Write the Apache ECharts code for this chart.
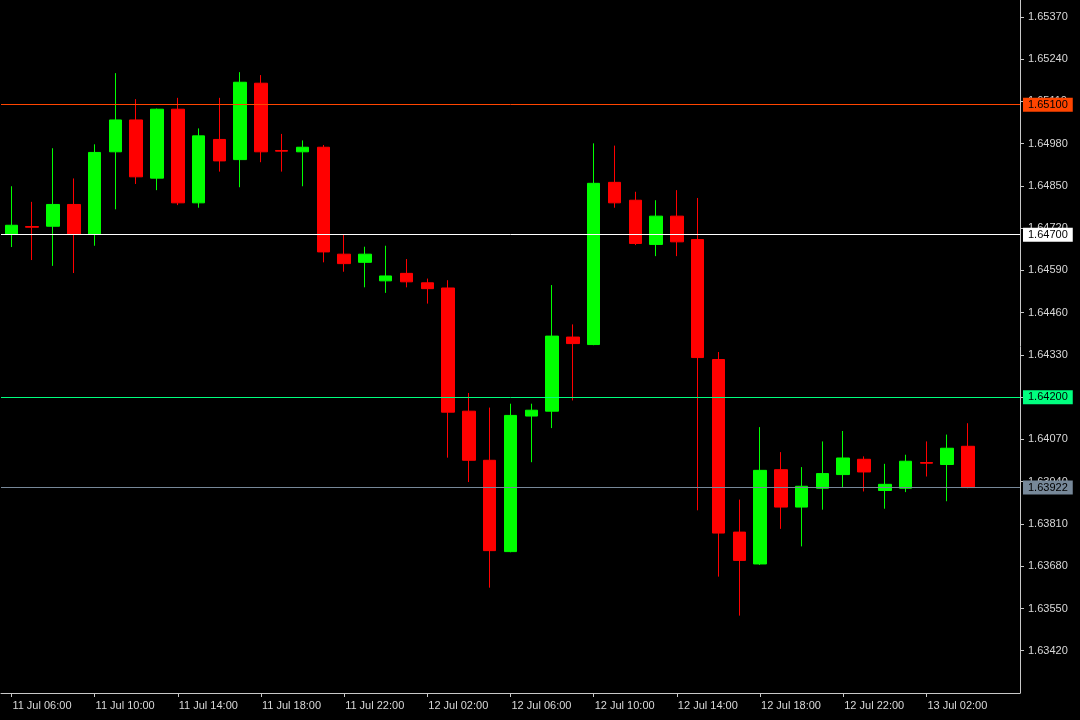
<!DOCTYPE html>
<html>
<head>
<meta charset="utf-8">
<script src="https://cdn.jsdelivr.net/npm/echarts@6/dist/echarts.min.js"></script>
<style>
html,body{margin:0;padding:0;background:#000;}
#chart{width:1080px;height:720px;}
</style>
</head>
<body>
<div id="chart"></div>
<script>
const categories = [
 '11 Jul 06:00','11 Jul 07:00','11 Jul 08:00','11 Jul 09:00','11 Jul 10:00','11 Jul 11:00','11 Jul 12:00','11 Jul 13:00',
 '11 Jul 14:00','11 Jul 15:00','11 Jul 16:00','11 Jul 17:00','11 Jul 18:00','11 Jul 19:00','11 Jul 20:00','11 Jul 21:00',
 '11 Jul 22:00','11 Jul 23:00','12 Jul 00:00','12 Jul 01:00','12 Jul 02:00','12 Jul 03:00','12 Jul 04:00','12 Jul 05:00',
 '12 Jul 06:00','12 Jul 07:00','12 Jul 08:00','12 Jul 09:00','12 Jul 10:00','12 Jul 11:00','12 Jul 12:00','12 Jul 13:00',
 '12 Jul 14:00','12 Jul 15:00','12 Jul 16:00','12 Jul 17:00','12 Jul 18:00','12 Jul 19:00','12 Jul 20:00','12 Jul 21:00',
 '12 Jul 22:00','12 Jul 23:00','13 Jul 00:00','13 Jul 01:00','13 Jul 02:00','13 Jul 03:00','13 Jul 04:00','13 Jul 05:00',
 '13 Jul 06:00'
];
const opens = [1.64702,1.64725,1.64726,1.64793,1.64702,1.64955,1.65053,1.64874,1.65086,1.64798,1.64993,1.64931,1.65166,1.64959,1.64955,1.64969,1.64640,1.64615,1.64558,1.64581,1.64552,1.64536,1.64157,1.64006,1.63725,1.64142,1.64157,1.64385,1.64362,1.64861,1.64806,1.64670,1.64757,1.64685,1.64316,1.63785,1.63687,1.63977,1.63862,1.63920,1.63962,1.64009,1.63913,1.63920,1.63999,1.63993,1.64049];
const closes = [1.64729,1.64723,1.64793,1.64702,1.64953,1.65053,1.64878,1.65086,1.64798,1.65004,1.64927,1.65169,1.64955,1.64957,1.64969,1.64647,1.64611,1.64640,1.64573,1.64555,1.64534,1.64154,1.64006,1.63728,1.64144,1.64160,1.64388,1.64365,1.64858,1.64798,1.64673,1.64757,1.64678,1.64322,1.63782,1.63698,1.63975,1.63862,1.63926,1.63965,1.64013,1.63970,1.63932,1.64003,1.63997,1.64043,1.63922];
const highs = [1.64849,1.64801,1.64966,1.64873,1.64978,1.65197,1.65117,1.65088,1.65121,1.65027,1.65121,1.65200,1.65191,1.65010,1.64990,1.64976,1.64701,1.64663,1.64666,1.64625,1.64565,1.64560,1.64213,1.64168,1.64180,1.64180,1.64545,1.64424,1.64981,1.64974,1.64832,1.64806,1.64837,1.64813,1.64339,1.63885,1.64108,1.64031,1.63985,1.64064,1.64096,1.64018,1.63995,1.64023,1.64064,1.64085,1.64120];
const lows = [1.64662,1.64622,1.64604,1.64582,1.64666,1.64778,1.64856,1.64837,1.64791,1.64783,1.64894,1.64846,1.64923,1.64894,1.64849,1.64615,1.64586,1.64538,1.64521,1.64538,1.64488,1.64014,1.63939,1.63614,1.63723,1.64000,1.64105,1.64190,1.64360,1.64783,1.64668,1.64634,1.64634,1.63852,1.63648,1.63528,1.63684,1.63795,1.63741,1.63854,1.63922,1.63910,1.63857,1.63908,1.63956,1.63880,1.63920];
const priceLevels = [1.65100, 1.64700, 1.64200, 1.63922];
const yMin = 1.63290, yMax = 1.65422, yStep = 0.0013;
const lastLabelIndex = 44;

const levelStyles = [
  {line:'#ff4500', bg:'#ff4500', fg:'#000000'},
  {line:'#ffffff', bg:'#ffffff', fg:'#000000'},
  {line:'#00ff7f', bg:'#00ff7f', fg:'#000000'},
  {line:'#778899', bg:'#778899', fg:'#000000'}
];

const ohlc = opens.map((o, i) => [o, closes[i], lows[i], highs[i]]);
const FONT = 'Liberation Sans';
const showEvery4 = (idx) => idx % 4 === 0 && idx <= lastLabelIndex;

const chart = echarts.init(document.getElementById('chart'), null, {renderer:'canvas'});
chart.setOption({
  backgroundColor:'#000000',
  animation:false,
  grid:{left:1, right:60, top:0, bottom:27, containLabel:false},
  xAxis:{
    type:'category',
    data:categories,
    boundaryGap:true,
    axisLine:{show:true, lineStyle:{color:'#c8c8c8', width:1}},
    axisTick:{show:true, alignWithLabel:true, interval:showEvery4, length:4, lineStyle:{color:'#c8c8c8'}},
    axisLabel:{interval:showEvery4, align:'left', margin:7, color:'#d8d8d8', fontSize:11, fontFamily:FONT, padding:[0,0,0,1]},
    splitLine:{show:false}
  },
  yAxis:{
    type:'value',
    position:'right',
    min:yMin, max:yMax, interval:yStep,
    scale:true,
    axisLine:{show:true, lineStyle:{color:'#c8c8c8', width:1}},
    axisTick:{show:true, length:4, lineStyle:{color:'#c8c8c8'}},
    axisLabel:{color:'#d8d8d8', fontSize:11, fontFamily:FONT, margin:8, showMinLabel:false, showMaxLabel:false,
      formatter: v => v.toFixed(5)},
    splitLine:{show:false}
  },
  series:[{
    type:'candlestick',
    data:ohlc,
    barWidth:13,
    itemStyle:{color:'#00ff00', color0:'#ff0000', borderColor:'#00ff00', borderColor0:'#ff0000', borderWidth:1},
    markLine:{
      silent:true,
      precision:5,
      symbol:['none','none'],
      animation:false,
      data: priceLevels.map((p, i) => ({
        yAxis:p,
        lineStyle:{color:levelStyles[i].line, width:1, type:'solid'},
        label:{show:true, position:'end', distance:3, formatter:p.toFixed(5),
          color:levelStyles[i].fg, backgroundColor:levelStyles[i].bg,
          fontSize:11, fontFamily:FONT, padding:[1,5,1,5], lineHeight:12}
      }))
    }
  }]
});
</script>
</body>
</html>
